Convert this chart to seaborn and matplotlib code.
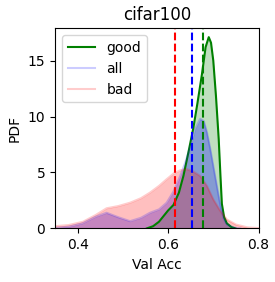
import numpy as np
import pandas as pd
import matplotlib
matplotlib.use("Agg")
import matplotlib.pyplot as plt
import seaborn as sns

# Density curves (x = Val Acc, y = PDF)
good_x = [0.553, 0.567, 0.58, 0.59, 0.60, 0.612, 0.624, 0.634, 0.645, 0.656, 0.665, 0.675, 0.683, 0.690, 0.695, 0.700, 0.706, 0.712, 0.716, 0.719, 0.724, 0.730, 0.740, 0.749]
good_y = [0.0, 0.2, 0.6, 1.1, 1.6, 2.1, 3.2, 4.7, 6.8, 9.0, 11.2, 13.8, 16.2, 17.1, 16.6, 15.0, 11.8, 8.0, 4.6, 2.2, 1.0, 0.45, 0.12, 0.0]
all_x = [0.35, 0.38, 0.41, 0.44, 0.464, 0.49, 0.516, 0.54, 0.56, 0.58, 0.597, 0.612, 0.627, 0.639, 0.649, 0.660, 0.671, 0.679, 0.686, 0.693, 0.70, 0.708, 0.716, 0.723, 0.73, 0.745, 0.76]
all_y = [0.05, 0.15, 0.45, 1.05, 1.4, 1.0, 0.65, 0.95, 1.4, 1.7, 2.3, 3.3, 4.7, 6.0, 7.3, 8.9, 9.8, 9.6, 8.6, 7.2, 5.6, 3.8, 2.0, 0.9, 0.35, 0.08, 0.0]
bad_x = [0.35, 0.38, 0.412, 0.44, 0.464, 0.49, 0.516, 0.54, 0.56, 0.58, 0.597, 0.612, 0.627, 0.641, 0.655, 0.671, 0.686, 0.70, 0.715, 0.73, 0.75, 0.775, 0.80]
bad_y = [0.2, 0.3, 0.6, 1.2, 1.8, 2.0, 2.3, 2.7, 3.2, 3.8, 4.4, 4.9, 5.2, 5.3, 5.1, 4.7, 3.8, 2.6, 1.6, 0.8, 0.35, 0.1, 0.03]

# Mean lines (dashed)
mean_good = 0.677
mean_all = 0.653
mean_bad = 0.616

fig, ax = plt.subplots(figsize=(2.75, 2.82), dpi=100)

series = [
    ("good", good_x, good_y, "green", 1.0, 0.25),
    ("all", all_x, all_y, "blue", 0.2, 0.3),
    ("bad", bad_x, bad_y, "red", 0.2, 0.25),
]
for name, xs, ys, col, la, fa in series:
    df = pd.DataFrame({"x": xs, "y": ys})
    sns.lineplot(data=df, x="x", y="y", color=col, alpha=la, lw=1.5, ax=ax, label=name)
    ax.fill_between(xs, ys, color=col, alpha=fa, lw=0)

ax.axvline(mean_bad, color="red", ls="--", lw=1.5)
ax.axvline(mean_all, color="blue", ls="--", lw=1.5)
ax.axvline(mean_good, color="green", ls="--", lw=1.5)

ax.set_xlim(0.35, 0.8)
ax.set_ylim(0, 17.9)
ax.set_xticks([0.4, 0.6, 0.8])
ax.set_yticks([0, 5, 10, 15])
ax.set_xlabel("Val Acc")
ax.set_ylabel("PDF")
ax.set_title("cifar100")
ax.legend(loc="upper left")

fig.subplots_adjust(left=0.2, right=0.94, top=0.9, bottom=0.19)
fig.savefig("out.png", dpi=100)
